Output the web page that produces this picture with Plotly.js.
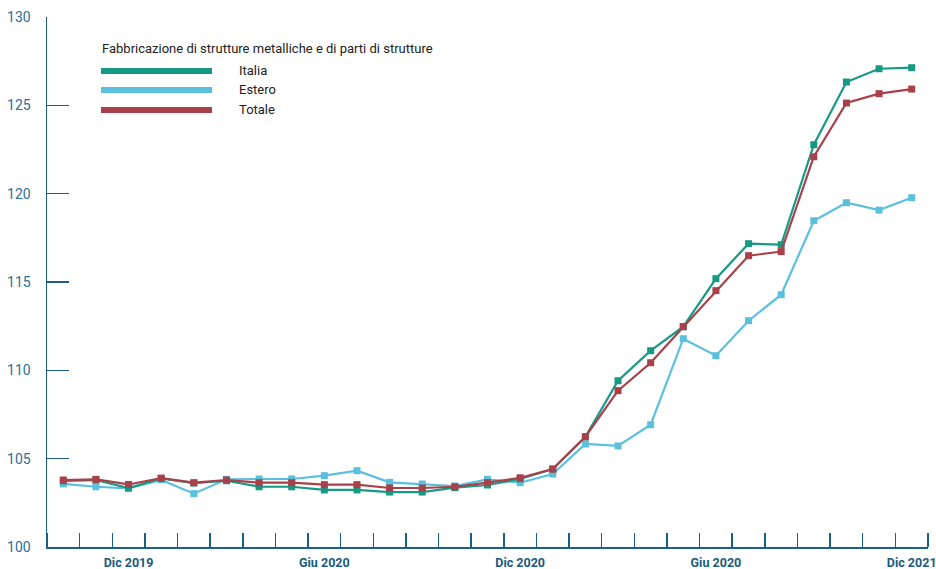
<!DOCTYPE html>
<html>
<head>
<meta charset="utf-8">
<script src="https://cdn.plot.ly/plotly-3.0.1.min.js"></script>
<style>html,body{margin:0;padding:0;background:#fff;}#chart{width:936px;height:569px;}</style>
</head>
<body>
<div id="chart"></div>
<script>
// Months Oct 2019 .. Dec 2021 (27 points)
var months = ["Ott 2019","Nov 2019","Dic 2019","Gen 2020","Feb 2020","Mar 2020","Apr 2020","Mag 2020","Giu 2020","Lug 2020","Ago 2020","Set 2020","Ott 2020","Nov 2020","Dic 2020","Gen 2021","Feb 2021","Mar 2021","Apr 2021","Mag 2021","Giu 2021","Lug 2021","Ago 2021","Set 2021","Ott 2021","Nov 2021","Dic 2021"];
var italia = [103.74,103.79,103.34,103.88,103.62,103.75,103.41,103.41,103.23,103.23,103.11,103.11,103.36,103.51,103.85,104.41,106.24,109.41,111.11,112.47,115.19,117.17,117.11,122.77,126.32,127.07,127.13];
var estero = [103.57,103.41,103.32,103.80,103.02,103.83,103.85,103.85,104.04,104.32,103.66,103.57,103.45,103.83,103.64,104.13,105.83,105.72,106.92,111.79,110.83,112.81,114.28,118.47,119.49,119.07,119.77];
var totale = [103.79,103.83,103.54,103.90,103.64,103.79,103.64,103.64,103.53,103.53,103.34,103.34,103.41,103.64,103.92,104.41,106.24,108.85,110.43,112.47,114.51,116.49,116.72,122.09,125.13,125.66,125.92];
var tickIdx = [2,8,14,20,26];
var tickLabels = ["Dic 2019","Giu 2020","Dic 2020","Giu 2020","Dic 2021"];
var seriesNames = ["Italia","Estero","Totale"];
var legendTitle = "Fabbricazione di strutture metalliche e di parti di strutture";
var yTicks = [100,105,110,115,120,125,130];

var colors = ["#169a85","#5bc0de","#a8414a"];
var data = [italia, estero, totale];
var xs = months.map(function(_, i){ return i; });

var traces = [];
// draw Estero first, then Italia, then Totale on top
[1,0,2].forEach(function(k){
  traces.push({
    x: xs, y: data[k], name: seriesNames[k], type: "scatter", mode: "lines+markers",
    line: {color: colors[k], width: 2.2},
    marker: {color: colors[k], symbol: "square", size: 7},
    showlegend: false, hoverinfo: "skip"
  });
});

var axisColor = "#1b5e86";
var shapes = [], annotations = [];
var legX0 = (101-47)/881, legX1 = (212-47)/881, legTx = (237-47)/881;
var legYs = [71, 90, 110];
for (var k = 0; k < 3; k++) {
  var yp = (547 - legYs[k]) / 530;
  shapes.push({type:"line", xref:"paper", yref:"paper", x0:legX0, x1:legX1, y0:yp, y1:yp,
    line:{color:colors[k], width:6}});
  annotations.push({xref:"paper", yref:"paper", x:legTx, y:yp, xanchor:"left", yanchor:"middle",
    text:seriesNames[k], showarrow:false, font:{family:"Roboto, 'Open Sans', sans-serif", size:13, color:"#222"}});
}
annotations.push({xref:"paper", yref:"paper", x:(100-47)/881, y:(547-49)/530, xanchor:"left", yanchor:"middle",
  text:legendTitle, showarrow:false, font:{family:"Roboto, 'Open Sans', sans-serif", size:13, color:"#222"}});

var layout = {
  width: 936, height: 569,
  margin: {l:47, r:8, t:17, b:22, pad:0},
  paper_bgcolor: "#fff", plot_bgcolor: "#fff",
  showlegend: false,
  xaxis: {
    range: [-0.5, 26.5], showgrid: false, zeroline: false,
    showline: true, linecolor: axisColor, linewidth: 1.5,
    tickmode: "array", tickvals: tickIdx, ticktext: tickLabels,
    ticks: "", ticklen: 0,
    minor: {tick0: -0.5, dtick: 1, ticks: "inside", ticklen: 14, tickcolor: axisColor, tickwidth: 1.5, showgrid:false},
    tickfont: {family: "Roboto, 'Open Sans', sans-serif", size: 12.5, color: "#1a5a80", weight: "bold"},
    ticklabelstandoff: 3, ticklabeloverflow: "allow", fixedrange: true
  },
  yaxis: {
    range: [100, 130], showgrid: false, zeroline: false,
    showline: true, linecolor: axisColor, linewidth: 1.5,
    tickmode: "array", tickvals: yTicks,
    ticks: "inside", ticklen: 22, tickcolor: axisColor, tickwidth: 1.5,
    tickfont: {family: "Roboto, 'Open Sans', sans-serif", size: 14, color: "#2a6f97"},
    ticklabelstandoff: 12, fixedrange: true
  },
  shapes: shapes,
  annotations: annotations
};
Plotly.newPlot("chart", traces, layout, {displayModeBar:false, staticPlot:true});
</script>
</body>
</html>
